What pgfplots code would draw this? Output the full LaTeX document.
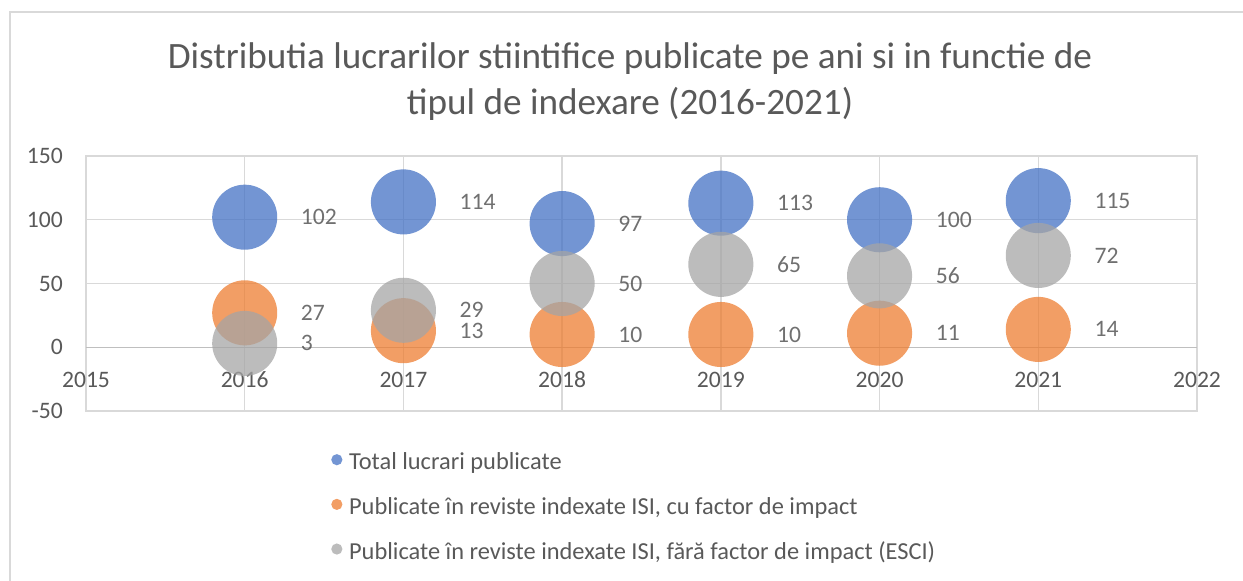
\documentclass[border=0pt]{standalone}
\usepackage{fontspec}
\setmainfont{Carlito}
\usepackage{pgfplots}
\pgfplotsset{compat=1.18}
\definecolor{cblue}{HTML}{4472C4}
\definecolor{corange}{HTML}{ED7D31}
\definecolor{cgray}{HTML}{A5A5A5}
\definecolor{gridgray}{HTML}{D9D9D9}
\definecolor{axisgray}{HTML}{BFBFBF}
\definecolor{ctext}{HTML}{595959}
\definecolor{clabel}{HTML}{404040}
\begin{document}
\begin{tikzpicture}
\path[use as bounding box] (0,0) rectangle (932.25pt,435.75pt);
\draw[color=gridgray, line width=0.9pt] (7.5pt,0pt) -- (7.5pt,426.75pt) -- (932.25pt,426.75pt);
\node[font=\fontsize{27.9}{34.5}\selectfont, text=ctext, align=center] at (472.5pt,374.5pt)
  {Distributia lucrarilor stiintifice publicate pe ani si in functie de\\tipul de indexare (2016-2021)};
\begin{axis}[
  at={(64.5pt,127.5pt)}, anchor=south west,
  scale only axis, width=833.25pt, height=191.25pt,
  xmin=2015, xmax=2022, ymin=-50, ymax=150,
  xtick={2015,2016,...,2022}, ytick={-50,50,100,150},
  extra y ticks={0}, extra y tick labels={0},
  extra y tick style={grid style={draw=axisgray, line width=1.1pt}},
  grid=major, grid style={draw=gridgray, line width=1.1pt},
  axis line style={draw=gridgray, line width=1.1pt},
  major tick length=0pt,
  /pgf/number format/assume math mode=true,
  /pgf/number format/set thousands separator={},
  tick label style={font=\fontsize{17.7}{21}\selectfont, text=ctext},
  xticklabel style={anchor=center, inner sep=0pt, yshift=23.6pt},
  yticklabel style={anchor=east, inner sep=0pt, xshift=-17.25pt},
  every node near coord/.append style={anchor=west, inner sep=0pt, xshift=42pt,
     font=\fontsize{17.7}{21}\selectfont, text=clabel},
  legend image code/.code={\draw[mark size=4.2pt] plot coordinates {(0.15cm,3.4pt)};},
  legend style={draw=none, fill=none, at={(0.2205,-0.162)}, anchor=north west,
     font=\fontsize{18.3}{21}\selectfont, text=ctext, row sep=16pt,
     inner sep=0pt, column sep=5pt,
     nodes={inner sep=0pt, text height=13pt, text depth=4.5pt}},
  legend cell align=left,
  clip=false,
]
\addplot[only marks, mark=*, mark size=24.4pt,
  mark options={draw=cblue, fill=cblue, fill opacity=0.75, draw opacity=0}, nodes near coords]
  coordinates {(2016,102) (2017,114) (2018,97) (2019,113) (2020,100) (2021,115)};
\addlegendentry{Total lucrari publicate}
\addplot[only marks, mark=*, mark size=24.4pt,
  mark options={draw=corange, fill=corange, fill opacity=0.75, draw opacity=0}, nodes near coords]
  coordinates {(2016,27) (2017,13) (2018,10) (2019,10) (2020,11) (2021,14)};
\addlegendentry{Publicate în reviste indexate ISI, cu factor de impact}
\addplot[only marks, mark=*, mark size=24.4pt,
  mark options={draw=cgray, fill=cgray, fill opacity=0.75, draw opacity=0}, nodes near coords]
  coordinates {(2016,3) (2017,29) (2018,50) (2019,65) (2020,56) (2021,72)};
\addlegendentry{Publicate în reviste indexate ISI, fără factor de impact (ESCI)}
\end{axis}
\end{tikzpicture}
\end{document}
